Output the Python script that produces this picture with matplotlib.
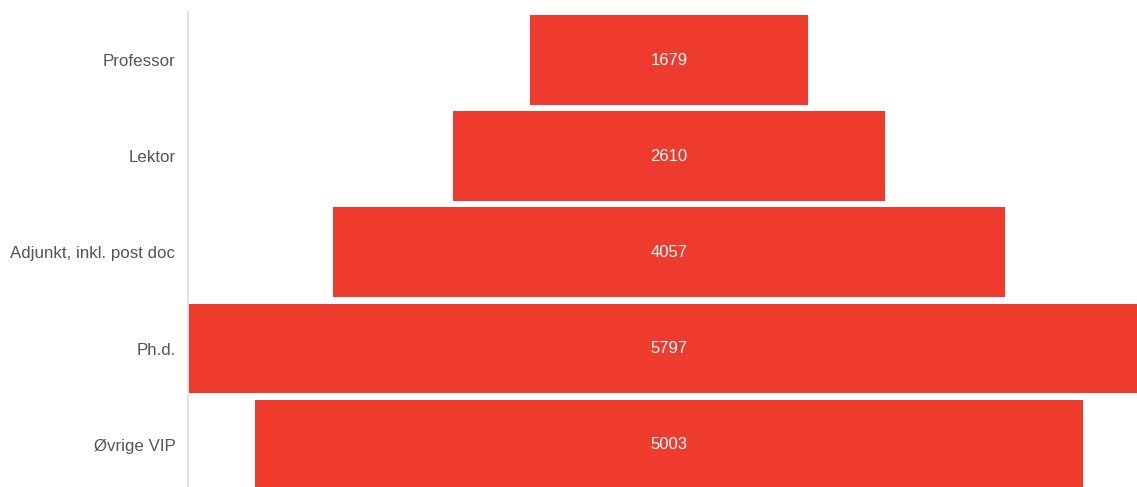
import matplotlib
matplotlib.use("Agg")
import matplotlib.pyplot as plt

categories = ["Professor", "Lektor", "Adjunkt, inkl. post doc", "Ph.d.", "Øvrige VIP"]
values = [1679, 2610, 4057, 5797, 5003]

plt.rcParams['font.family'] = ['Liberation Sans', 'DejaVu Sans']

W, H = 1137, 487
fig = plt.figure(figsize=(W / 100, H / 100), dpi=100)
ax = fig.add_axes([188 / W, 0, 1 - 188 / W, 1 - 12 / H])

ypos = list(range(len(categories)))
lefts = [-v / 2 for v in values]
bars = ax.barh(ypos, values, left=lefts, height=0.935, color="#EE3B2E")

for y, v in zip(ypos, values):
    ax.text(0, y, str(v), ha="center", va="center", color="white", fontsize=12)

# the widest bar runs past the right edge, as in the original
ax.set_xlim(-2906, 2828)
ax.set_ylim(4.44, -0.5)
ax.set_yticks(ypos)
ax.set_yticklabels(categories, fontsize=12.2, color="#555555")
ax.tick_params(axis="y", length=0, pad=9)
ax.set_xticks([])
for s in ["top", "right", "bottom"]:
    ax.spines[s].set_visible(False)
ax.spines["left"].set_color("#dddddd")
ax.spines["left"].set_linewidth(1.2)
ax.spines["left"].set_zorder(0)

fig.savefig("out.png", dpi=100)
